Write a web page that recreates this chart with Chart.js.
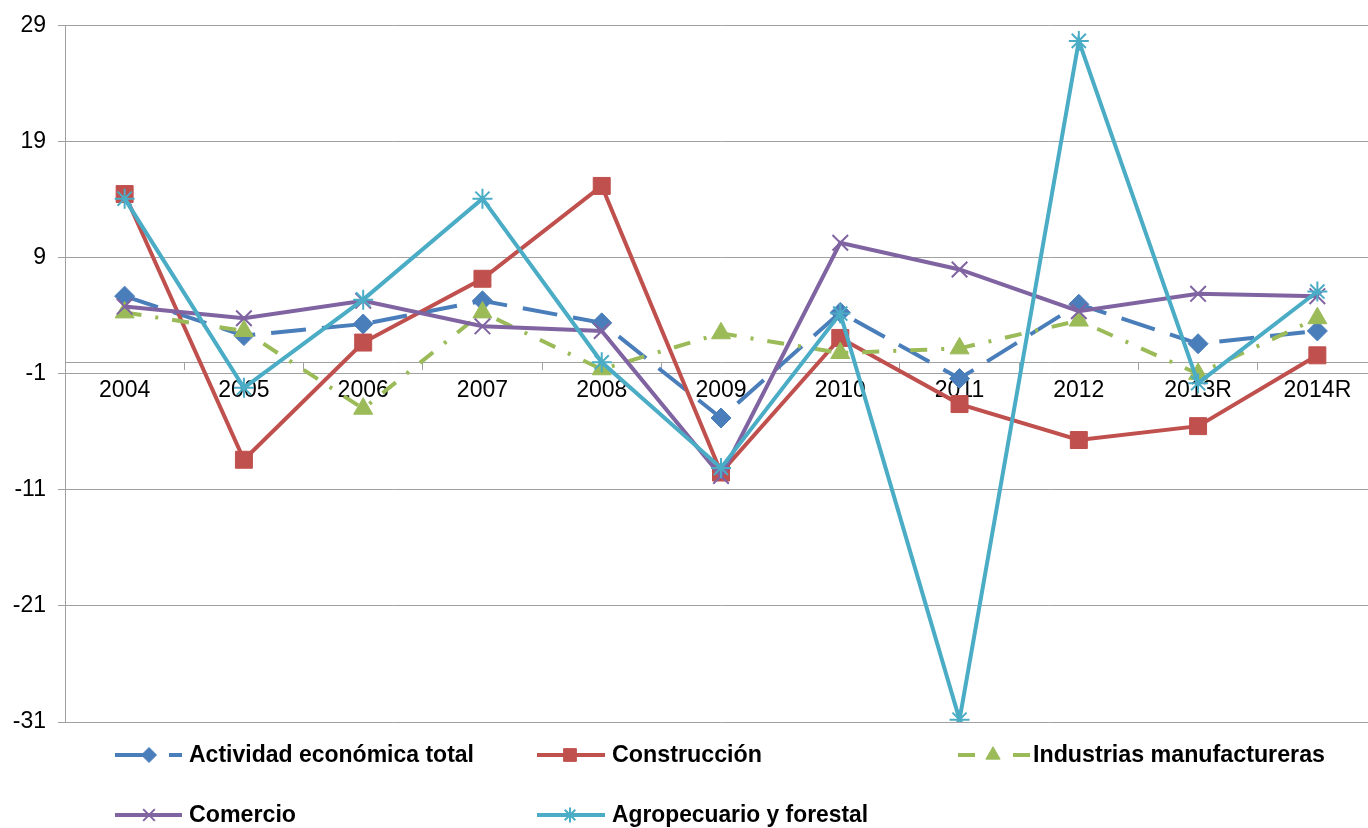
<!DOCTYPE html>
<html><head><meta charset="utf-8">
<script src="https://cdn.jsdelivr.net/npm/chart.js@4.4.0/dist/chart.umd.min.js"></script>
<style>html,body{margin:0;padding:0;overflow:hidden;background:#fff}#c{display:block;width:1390px;height:828px}</style>
</head><body><canvas id="c" width="1390" height="828"></canvas>
<script>
const categories = ["2004","2005","2006","2007","2008","2009","2010","2011","2012","2013R","2014R"];
const actividad    = [5.7, 2.3, 3.3, 5.3, 3.4, -4.8, 4.3, -1.4, 5.0, 1.6, 2.7];
const construccion = [14.5, -8.4, 1.7, 7.2, 15.2, -9.5, 2.1, -3.6, -6.7, -5.5, 0.6];
const industrias   = [4.3, 2.7, -4.0, 4.3, -0.6, 2.5, 0.8, 1.2, 3.6, -1.0, 3.8];
const comercio     = [4.8, 3.8, 5.3, 3.1, 2.7, -9.8, 10.3, 8.0, 4.4, 5.9, 5.7];
const agropecuario = [14.1, -2.2, 5.4, 14.1, 0.0, -9.1, 4.2, -30.8, 27.7, -1.8, 6.1];
const yTicks = [-31, -21, -11, -1, 9, 19, 29];
const seriesNames = ["Actividad económica total","Construcción","Industrias manufactureras","Comercio","Agropecuario y forestal"];

const GRID = '#a0a0a0';
const FONT = '"Liberation Sans", Arial, sans-serif';

const datasets = [
  {label: seriesNames[0], data: actividad, borderColor:'#4a7ebb', backgroundColor:'#4a7ebb', borderDash:[35,16],
   pointStyle:'rectRot', pointRadius:10, pointBorderWidth:1, order:5},
  {label: seriesNames[1], data: construccion, borderColor:'#c0504d', backgroundColor:'#c0504d', borderDash:[],
   pointStyle:'rect', pointRadius:12, pointBorderWidth:1, order:4},
  {label: seriesNames[2], data: industrias, borderColor:'#9bbb59', backgroundColor:'#9bbb59', borderDash:[17,14,3,14],
   pointStyle:'triangle', pointRadius:11, pointBorderWidth:1, order:3},
  {label: seriesNames[3], data: comercio, borderColor:'#8064a2', backgroundColor:'#8064a2', borderDash:[],
   pointStyle:'crossRot', pointRadius:11, pointBorderWidth:2, order:2},
  {label: seriesNames[4], data: agropecuario, borderColor:'#4bacc6', backgroundColor:'#4bacc6', borderDash:[],
   pointStyle:'star', pointRadius:10, pointBorderWidth:2, order:1}
].map(d => Object.assign({borderWidth:4, tension:0, fill:false, pointBackgroundColor:d.backgroundColor, pointBorderColor:d.borderColor, pointHoverRadius:d.pointRadius}, d));

const legendLayout = [
  {ds:0, x1:115, x2:182, mx:149, tx:189, tw:285, y:755},
  {ds:1, x1:537, x2:605, mx:570, tx:612, tw:150, y:755},
  {ds:2, x1:958, x2:1030, mx:993, tx:1033, tw:292, y:755},
  {ds:3, x1:115, x2:182, mx:149, tx:189, tw:107, y:815},
  {ds:4, x1:537, x2:605, mx:570, tx:612, tw:256, y:815}
];
const legendDash = {0:[34,20], 2:[17,38]};

const legendPlugin = {
  id:'customLegend',
  afterDraw(chart){
    const ctx = chart.ctx;
    legendLayout.forEach(it => {
      const ds = chart.data.datasets[it.ds];
      ctx.save();
      ctx.strokeStyle = ds.borderColor; ctx.lineWidth = 4; ctx.setLineDash(legendDash[it.ds] || []);
      ctx.beginPath(); ctx.moveTo(it.x1, it.y); ctx.lineTo(it.x2, it.y); ctx.stroke();
      ctx.setLineDash([]);
      ctx.fillStyle = ds.backgroundColor; ctx.strokeStyle = ds.borderColor; ctx.lineWidth = ds.pointBorderWidth;
      Chart.helpers.drawPoint(ctx, {pointStyle: ds.pointStyle, radius: ds.pointRadius*0.75, borderWidth: ds.pointBorderWidth, rotation:0}, it.mx, it.y);
      ctx.fillStyle = '#000'; ctx.font = 'bold 24px ' + FONT; ctx.textBaseline = 'middle'; ctx.textAlign = 'left';
      ctx.fillText(ds.label, it.tx, it.y, it.tw);
      ctx.restore();
    });
  }
};

new Chart(document.getElementById('c'), {
  type:'line',
  data:{labels: categories, datasets},
  options:{
    responsive:false, animation:false,
    layout:{padding:{left:0, right:1, top:24, bottom:106}},
    plugins:{legend:{display:false}, tooltip:{enabled:false}},
    scales:{
      x:{type:'category', position:{y:0}, offset:true,
         grid:{display:true, drawOnChartArea:false, drawTicks:true, tickLength:7, color:GRID, offset:true},
         border:{display:true, color:GRID, width:1},
         ticks:{color:'#000', font:{family:FONT, size:23}, padding:8, maxRotation:0, autoSkip:false}},
      y:{type:'linear', min:-31, max:29,
         afterBuildTicks: s => { s.ticks = yTicks.map(v => ({value:v})); },
         afterFit: s => { s.width = 65; },
         grid:{color:GRID, lineWidth:1, tickLength:7, drawTicks:true},
         border:{display:true, color:GRID, width:1},
         ticks:{color:'#000', font:{family:FONT, size:23}, padding:12}}
    }
  },
  plugins:[legendPlugin]
});
</script></body></html>
